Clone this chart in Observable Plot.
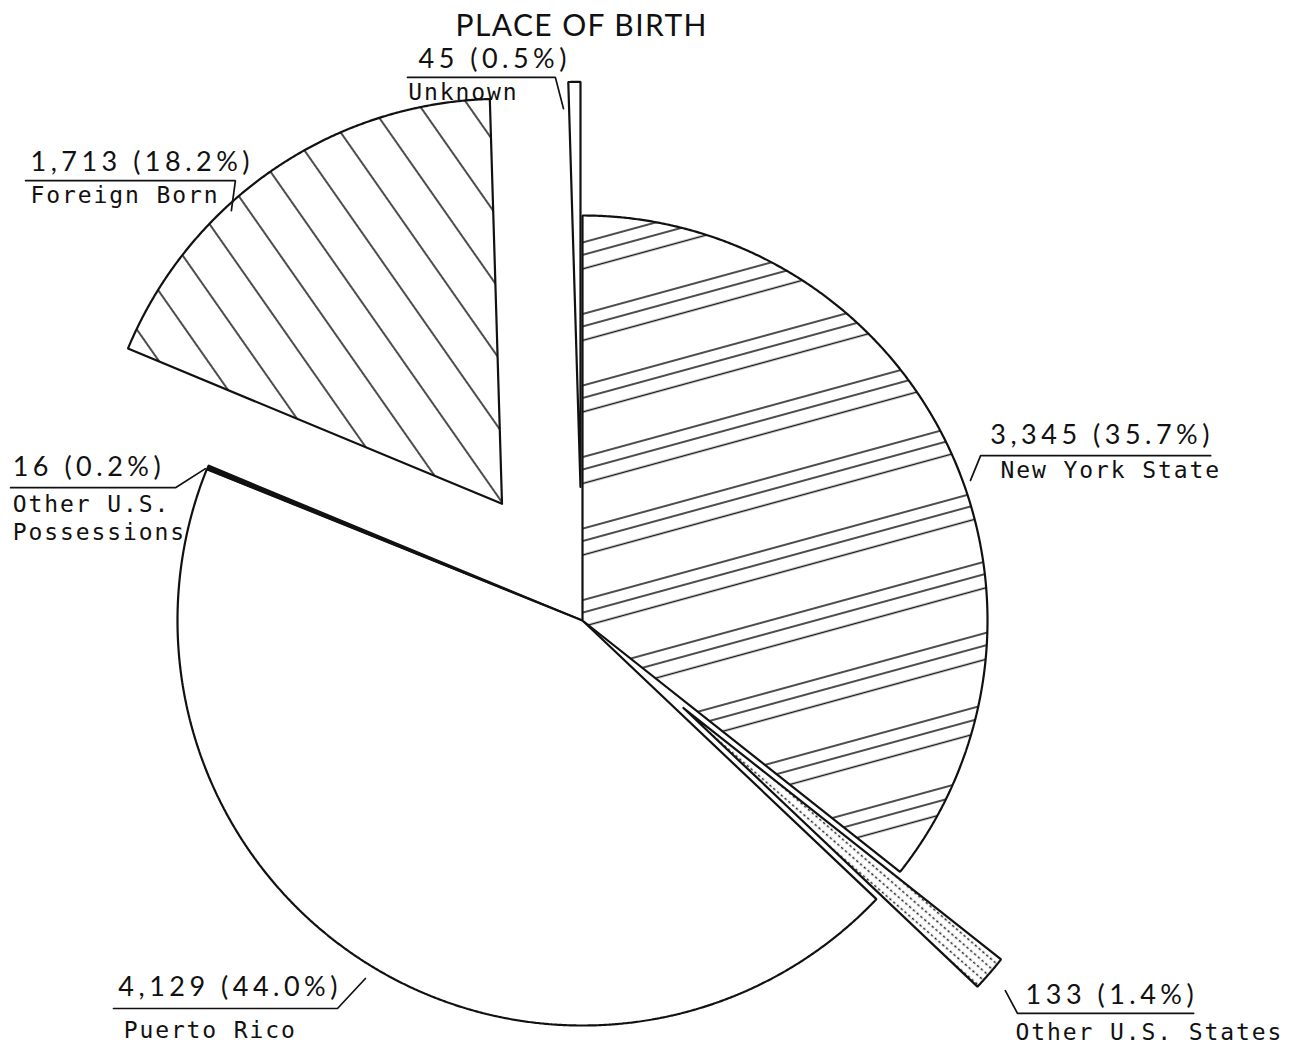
<!DOCTYPE html>
<html>
<head>
<meta charset="utf-8">
<script src="https://cdn.jsdelivr.net/npm/d3@7"></script>
<script src="https://cdn.jsdelivr.net/npm/@observablehq/plot@0.6"></script>
<style>
  html, body { margin: 0; padding: 0; background: #fff; }
  #chart svg { display: block; background: #fff; }
</style>
</head>
<body>
<div id="chart"></div>
<script>
// ---------------- DATA ----------------
const title = "PLACE OF BIRTH";
const categories = ["New York State", "Other U.S. States", "Puerto Rico", "Other U.S. Possessions", "Foreign Born", "Unknown"];
const counts = [3345, 133, 4129, 16, 1713, 45];
const percents = [35.7, 1.4, 44.0, 0.2, 18.2, 0.5];
const countLabels = ["3,345", "133", "4,129", "16", "1,713", "45"];
const nameLines = [["New York State"], ["Other U.S. States"], ["Puerto Rico"], ["Other U.S.", "Possessions"], ["Foreign Born"], ["Unknown"]];

// ---------------- LAYOUT / STYLE ----------------
const W = 1292, H = 1048, CX = 582, CY = 620, R = 405;
const explode = {"Unknown": 0.33, "Foreign Born": 0.35, "Other U.S. States": 0.33};
const sliceFill = {
  "New York State": "url(#hatchNY)",
  "Other U.S. States": "url(#stipple)",
  "Puerto Rico": "white",
  "Other U.S. Possessions": "#111",
  "Foreign Born": "url(#hatchFB)",
  "Unknown": "white"
};
const drawOrder = ["Puerto Rico", "New York State", "Other U.S. Possessions", "Foreign Born", "Unknown", "Other U.S. States"];
// label anchors in pie units (radius = 1, y up)
const labelLayout = {
  "Unknown":               {num: [-0.405, 1.363], name: [-0.430, 1.284], callout: [[-0.432, 1.341], [-0.067, 1.341], [-0.047, 1.264]]},
  "Foreign Born":          {num: [-1.363, 1.111], name: [-1.363, 1.032], callout: [[-1.375, 1.086], [-0.857, 1.086], [-0.867, 1.012]]},
  "Other U.S. Possessions":{num: [-1.407, 0.358], name: [-1.407, 0.267], callout: [[-1.412, 0.328], [-1.005, 0.328], [-0.931, 0.375]]},
  "New York State":        {num: [1.007, 0.437],  name: [1.032, 0.351],  callout: [[1.551, 0.407], [0.983, 0.407], [0.958, 0.346]]},
  "Puerto Rico":           {num: [-1.146, -0.926], name: [-1.133, -1.032], callout: [[-1.158, -0.958], [-0.605, -0.958], [-0.536, -0.884]]},
  "Other U.S. States":     {num: [1.094, -0.946], name: [1.069, -1.037], callout: [[1.044, -0.914], [1.074, -0.970], [1.509, -0.970]]}
};
const titlePos = [-0.002, 1.444];
const nameLineStep = 0.069;

// ---------------- GEOMETRY ----------------
const arcs = d3.pie().sort(null).value(d => d)(counts);
const slices = categories.map((name, i) => ({name, a0: arcs[i].startAngle, a1: arcs[i].endAngle}));

function wedge(s) {
  const e = explode[s.name] || 0;
  const m = (s.a0 + s.a1) / 2;
  const ox = e * Math.sin(m), oy = e * Math.cos(m);
  const pts = [{name: s.name, x: ox, y: oy}];
  const n = Math.max(4, Math.ceil((s.a1 - s.a0) / 0.004));
  for (let k = 0; k <= n; k++) {
    const a = s.a0 + (s.a1 - s.a0) * k / n;
    pts.push({name: s.name, x: ox + Math.sin(a), y: oy + Math.cos(a)});
  }
  pts.push({name: s.name, x: ox, y: oy});
  return pts;
}

const countRows = categories.map((name, i) => ({
  name, x: labelLayout[name].num[0], y: labelLayout[name].num[1],
  text: `${countLabels[i]} (${percents[i].toFixed(1)}%)`
}));
const nameRows = categories.flatMap((name, i) => nameLines[i].map((t, j) => ({
  name, x: labelLayout[name].name[0], y: labelLayout[name].name[1] - j * nameLineStep, text: t
})));
const calloutRows = categories.flatMap(name => labelLayout[name].callout.map(([x, y]) => ({name, x, y})));

const marks = drawOrder.map(name => {
  const s = slices.find(d => d.name === name);
  return Plot.line(wedge(s), {
    x: "x", y: "y",
    fill: sliceFill[name],
    stroke: "#111",
    strokeWidth: name === "Other U.S. Possessions" ? 1.5 : 2.2,
    strokeLinejoin: "miter"
  });
});

marks.push(
  Plot.line(calloutRows, {x: "x", y: "y", z: "name", stroke: "#111", strokeWidth: 1.7, strokeLinejoin: "miter"}),
  Plot.text(countRows, {x: "x", y: "y", text: "text", textAnchor: "start", lineAnchor: "bottom",
    fontFamily: "Lato, 'Open Sans', sans-serif", fontSize: 27, fontWeight: 400, fill: "#111"}),
  Plot.text(nameRows, {x: "x", y: "y", text: "text", textAnchor: "start", lineAnchor: "bottom",
    fontFamily: "'DejaVu Sans Mono', 'Liberation Mono', monospace", fontSize: 23, fill: "#111"}),
  Plot.text([{x: titlePos[0], y: titlePos[1], text: title}], {x: "x", y: "y", text: "text", textAnchor: "middle", lineAnchor: "bottom",
    fontFamily: "Lato, 'Open Sans', sans-serif", fontSize: 30, fontWeight: 400, fill: "#111"})
);

const svg = Plot.plot({
  width: W, height: H,
  margin: 0,
  x: {domain: [-CX / R, (W - CX) / R], range: [0, W], axis: null},
  y: {domain: [-(H - CY) / R, CY / R], range: [H, 0], axis: null},
  style: {background: "white"},
  marks
});

// pattern definitions (styles)
const defs = document.createElementNS("http://www.w3.org/2000/svg", "defs");
defs.innerHTML = `
  <pattern id="hatchNY" patternUnits="userSpaceOnUse" width="600" height="69" patternTransform="rotate(-15.3)">
    <rect width="600" height="69" fill="white"/>
    <line x1="0" x2="600" y1="42" y2="42" stroke="#111" stroke-width="1.7"/>
    <line x1="0" x2="600" y1="54" y2="54" stroke="#111" stroke-width="1.7"/>
    <line x1="0" x2="600" y1="67.5" y2="67.5" stroke="#111" stroke-width="1.7"/>
  </pattern>
  <pattern id="hatchFB" patternUnits="userSpaceOnUse" width="600" height="40" patternTransform="rotate(55)">
    <rect width="600" height="40" fill="white"/>
    <line x1="0" x2="600" y1="37" y2="37" stroke="#111" stroke-width="1.7"/>
  </pattern>
  <pattern id="stipple" patternUnits="userSpaceOnUse" width="10" height="7" patternTransform="rotate(41)">
    <rect width="10" height="7" fill="white"/>
    <line x1="0" x2="10" y1="3.5" y2="3.5" stroke="#222" stroke-width="1.5" stroke-dasharray="2.5 2.5"/>
  </pattern>`;
svg.insertBefore(defs, svg.firstChild);

// letter spacing per text group (by font size)
const spacingBySize = {"27": "4.5px", "23": "1.9px", "30": "1.4px"};
svg.querySelectorAll("g").forEach(g => {
  const fs = g.getAttribute("font-size");
  if (fs && spacingBySize[fs]) {
    g.style.letterSpacing = spacingBySize[fs];
    g.querySelectorAll("text").forEach(t => t.setAttribute("letter-spacing", spacingBySize[fs]));
  }
});

document.getElementById("chart").appendChild(svg);
</script>
</body>
</html>
